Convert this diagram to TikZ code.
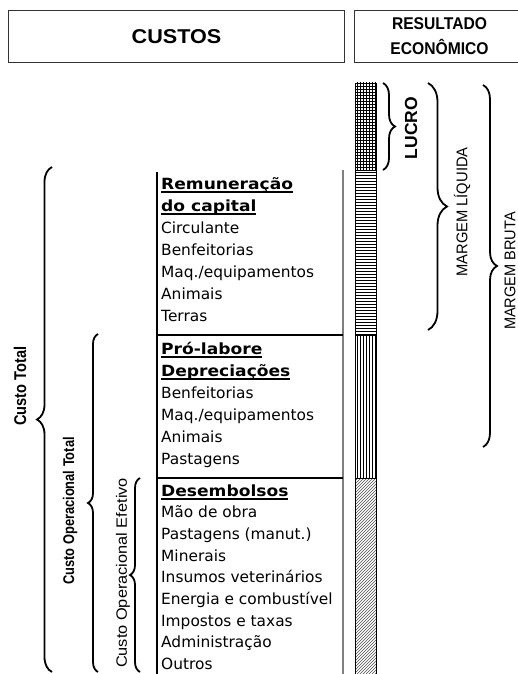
\documentclass[tikz,border=0pt]{standalone}
\usepackage{fontspec}
\usetikzlibrary{patterns,decorations.pathreplacing}
\newfontfamily\hdrfont{Liberation Sans}
\newfontfamily\listfont{DejaVu Sans}[BoldFeatures={FakeStretch=1.11}]
% thick underline for the section headings
\newcommand{\headul}[1]{\sbox0{#1}\rlap{\rule[-4pt]{\wd0}{1.8pt}}\usebox0}
\begin{document}
\begin{tikzpicture}[x=1pt,y=-1pt,
  hdrbox/.style={draw=black!80,line width=1pt,inner sep=0pt,anchor=north west},
  barline/.style={draw=black,line width=0.8pt},
  colline/.style={line width=1.5pt,black},
  grayline/.style={line width=2.4pt,black!50},
  sepline/.style={line width=2pt,black},
  itemtxt/.style={anchor=base west,inner sep=0pt,font=\listfont\fontsize{15.4}{22}\selectfont},
  headtxt/.style={itemtxt,font=\listfont\bfseries\fontsize{15.4}{22}\selectfont},
  bracer/.style={decorate,line width=1.8pt,decoration={brace,amplitude=#1}},
  rotlab/.style={rotate=90,inner sep=0pt,anchor=center}
]
\useasboundingbox (0,0) rectangle (518,674);

% header boxes
\node[hdrbox,minimum width=336pt,minimum height=52pt,
      font=\hdrfont\bfseries\fontsize{20}{20}\selectfont\addfontfeature{FakeStretch=1.08}]
      (custos) at (8,10) {CUSTOS};
\node[hdrbox,minimum width=170pt,minimum height=52pt,align=center,
      font=\hdrfont\bfseries\fontsize{17}{25}\selectfont\addfontfeature{FakeStretch=0.92}]
      (result) at (354,10) {RESULTADO\\ECONÔMICO};

% stacked bar
\draw[barline,pattern=grid] (355,83) rectangle (376,170);
\draw[barline,pattern=horizontal lines] (355,170) rectangle (376,335);
\draw[barline,pattern=vertical lines] (355,335) rectangle (376,478);
\draw[barline,pattern=north east lines,pattern color=black!70] (355,478) rectangle (376,690);

% cost column frame
\draw[colline] (157,172) -- (157,690);
\draw[grayline] (343,170) -- (343,690);
\draw[sepline] (157,335) -- (343,335);
\draw[sepline] (157,478) -- (343,478);

% capital remuneration
\node[headtxt] (r1) at (161,189) {\headul{Remuneração}};
\node[headtxt] (r2) at (161,211) {\headul{do capital}};
\foreach \t [count=\i from 3] in {Circulante,Benfeitorias,Maq./equipamentos,Animais,Terras}
  \node[itemtxt] (r\i) at (161,189+22*\i-22) {\t};

% depreciation
\node[headtxt] (d1) at (161,354) {\headul{Pró-labore}};
\node[headtxt] (d2) at (161,376) {\headul{Depreciações}};
\foreach \t [count=\i from 3] in {Benfeitorias,Maq./equipamentos,Animais,Pastagens}
  \node[itemtxt] (d\i) at (161,354+22*\i-22) {\t};

% cash expenses
\node[headtxt] (e1) at (161,496) {\headul{Desembolsos}};
\foreach \t [count=\i from 2] in {Mão de obra,Pastagens (manut.),Minerais,Insumos veterinários,Energia e combustível,Impostos e taxas,Administração,Outros}
  \node[itemtxt] (e\i) at (161,496+21.7*\i-21.7) {\t};

% braces on the left
\coordinate (ctB) at (52,672);  \coordinate (ctT) at (52,167);
\coordinate (cotB) at (98,672); \coordinate (cotT) at (98,334);
\coordinate (coeB) at (140,672);\coordinate (coeT) at (140,478);
\draw[bracer=15pt] (ctB) -- (ctT);
\draw[bracer=10pt] (cotB) -- (cotT);
\draw[bracer=10pt] (coeB) -- (coeT);
\node[rotlab,font=\hdrfont\bfseries\fontsize{17}{17}\selectfont\addfontfeature{FakeStretch=0.86}] (lct) at (20,386) {Custo Total};
\node[rotlab,font=\hdrfont\bfseries\fontsize{15.5}{15.5}\selectfont\addfontfeature{FakeStretch=0.83}] (lcot) at (70,511) {Custo Operacional Total};
\node[rotlab,font=\hdrfont\fontsize{15}{15}\selectfont\addfontfeature{FakeStretch=1.09}] (lcoe) at (123,573) {Custo Operacional Efetivo};

% braces on the right
\coordinate (luT) at (383,83);  \coordinate (luB) at (383,170);
\coordinate (mlT) at (428,83);  \coordinate (mlB) at (428,330);
\coordinate (mbT) at (483,85);  \coordinate (mbB) at (483,447);
\draw[bracer=12pt] (luT) -- (luB);
\draw[bracer=19pt] (mlT) -- (mlB);
\draw[bracer=14pt] (mbT) -- (mbB);
\node[rotlab,font=\hdrfont\bfseries\fontsize{17.5}{17.5}\selectfont] (llu) at (411,128) {LUCRO};
\node[rotlab,font=\hdrfont\fontsize{15.5}{15.5}\selectfont\addfontfeature{FakeStretch=0.95}] (lml) at (462,212) {MARGEM LÍQUIDA};
\node[rotlab,font=\hdrfont\fontsize{15.5}{15.5}\selectfont\addfontfeature{FakeStretch=0.94}] (lmb) at (510,271) {MARGEM BRUTA};
\end{tikzpicture}
\end{document}
